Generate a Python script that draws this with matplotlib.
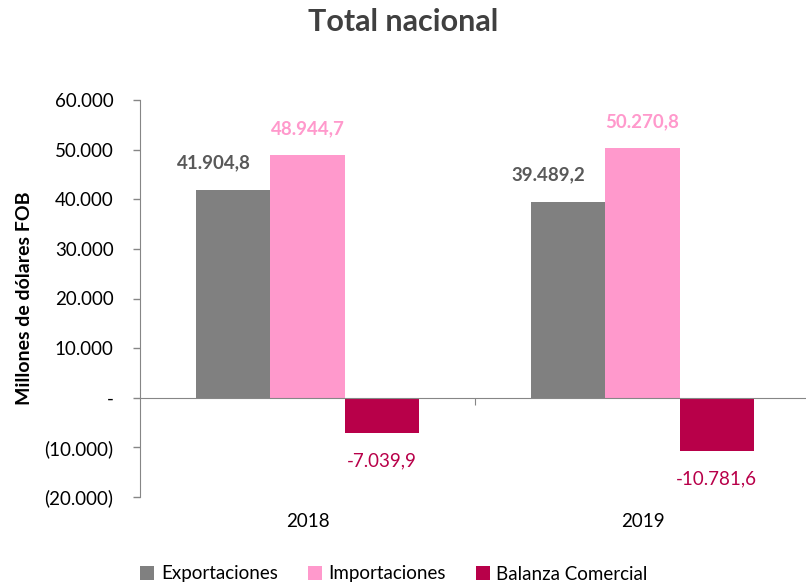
import matplotlib
matplotlib.use("Agg")
import matplotlib.pyplot as plt
import matplotlib.transforms as mtransforms
from matplotlib.ticker import FuncFormatter, MultipleLocator
import numpy as np

plt.rcParams['font.family'] = ['Lato', 'DejaVu Sans']

categories = ["2018", "2019"]
series_names = ["Exportaciones", "Importaciones", "Balanza Comercial"]
exportaciones = [41904.8, 39489.2]
importaciones = [48944.7, 50270.8]
balanza = [-7039.9, -10781.6]
bar_colors = ["#808080", "#FF99CC", "#B80049"]
label_colors = ["#595959", "#FF99CC", "#B80049"]
label_dx = [-14, 0, 0]


def es_num(v, dec=1):
    s = f"{abs(v):,.{dec}f}"
    s = s.replace(",", "X").replace(".", ",").replace("X", ".")
    return ("-" if v < 0 else "") + s


def tick_fmt(v, pos):
    if abs(v) < 1e-9:
        return "-"
    s = f"{abs(v):,.0f}".replace(",", ".")
    return f"({s})" if v < 0 else s


fig = plt.figure(figsize=(8.06, 5.85), dpi=100)
ax = fig.add_axes([140 / 806, 1 - 497 / 585, 670 / 806, 397 / 585])

x = np.arange(len(categories))
w = 0.222
data = [exportaciones, importaciones, balanza]
for i, (vals, name) in enumerate(zip(data, series_names)):
    xs = x + (i - 1) * w
    ax.bar(xs, vals, width=w, color=bar_colors[i], label=name, zorder=2)
    for xv, v in zip(xs, vals):
        off = 13 if v >= 0 else -14
        ax.annotate(es_num(v), (xv, v), xytext=(label_dx[i], off), textcoords="offset points",
                    ha="center", va="bottom" if v >= 0 else "top",
                    fontsize=13.5, fontweight="bold" if v >= 0 else "normal",
                    color=label_colors[i])

ax.set_xlim(-0.5, 1.5)
ax.set_ylim(-20000, 60000)
ax.yaxis.set_major_locator(MultipleLocator(10000))
ax.yaxis.set_major_formatter(FuncFormatter(tick_fmt))
ax.tick_params(axis="y", labelsize=13.5, colors="#868686", labelcolor="#000000",
               length=5, width=1, pad=14)

for s in ["top", "right"]:
    ax.spines[s].set_visible(False)
ax.spines["left"].set_color("#868686")
ax.spines["bottom"].set_position(("data", 0))
ax.spines["bottom"].set_color("#868686")
ax.set_xticks([0.5])
ax.set_xticklabels([])
ax.tick_params(axis="x", length=5, colors="#868686")

trans = mtransforms.blended_transform_factory(ax.transData, ax.transAxes)
for xv, c in zip(x, categories):
    ax.text(xv, -0.04, c, transform=trans, ha="center", va="top", fontsize=13.5)

ax.set_ylabel("Millones de dólares FOB", fontsize=14, fontweight="bold", labelpad=8)

fig.text(0.5, 1 - 22 / 585, "Total nacional", ha="center", va="center",
         fontsize=22, fontweight="bold", color="#404040")

fig.legend(loc="center", bbox_to_anchor=(394 / 806, 1 - 574 / 585), ncol=3, frameon=False,
           fontsize=13.5, handlelength=0.75, handleheight=0.75, columnspacing=1.6,
           handletextpad=0.35)

fig.savefig("out.png", dpi=100)
